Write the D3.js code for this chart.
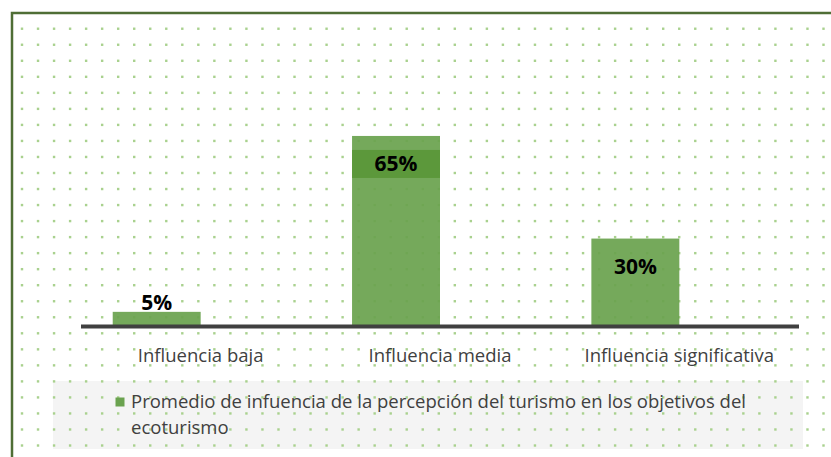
<!DOCTYPE html>
<html>
<head>
<meta charset="utf-8">
<style>
  html, body { margin: 0; padding: 0; background: #fff; }
  svg { display: block; }
</style>
</head>
<body>
<script src="https://cdn.jsdelivr.net/npm/d3@7"></script>
<script>
// datos del gráfico
var categories = ["Influencia baja", "Influencia media", "Influencia significativa"];
var values = [5, 65, 30];
var valueLabels = ["5%", "65%", "30%"];
var seriesName = "Promedio de infuencia de la percepción del turismo en los objetivos del ecoturismo";

var width = 831, height = 457;
var font = "'Open Sans', 'Noto Sans', sans-serif";

var svg = d3.select("body").append("svg")
  .attr("width", width)
  .attr("height", height);

svg.append("defs").append("clipPath").attr("id", "frame")
  .append("rect").attr("x", 12).attr("y", 12).attr("width", 900).attr("height", 600);

// escalas
var x = d3.scaleBand().domain(categories).range([81, 799]).paddingInner(0.265).paddingOuter(0.1325);
var sub = d3.scaleBand().domain([0, 1]).range([0, x.bandwidth()]);
var y = d3.scaleLinear().domain([0, 70]).range([326.5, 121.3]);

// fondo de la leyenda
svg.append("rect")
  .attr("x", 53).attr("y", 381).attr("width", 750).attr("height", 68)
  .attr("fill", "#f4f4f4");

// patrón de puntos
var dots = [];
for (var i = 0; i < 52; i++) {
  for (var j = 0; j < 28; j++) {
    dots.push([22 + i * 16.03, 12.7 + j * 16.03]);
  }
}
svg.append("g").attr("clip-path", "url(#frame)")
  .selectAll("rect").data(dots).enter().append("rect")
  .attr("x", function(d) { return d[0] - 1.2; })
  .attr("y", function(d) { return d[1] - 1.2; })
  .attr("width", 2.4).attr("height", 2.4)
  .attr("fill", "#a9d18e");

// barras
svg.selectAll(".bar").data(values).enter().append("rect")
  .attr("class", "bar")
  .attr("x", function(d, i) { return x(categories[i]) + sub(0); })
  .attr("y", function(d) { return y(d); })
  .attr("width", sub.bandwidth())
  .attr("height", function(d) { return y(0) - y(d); })
  .attr("fill", "#6aa24f")
  .attr("fill-opacity", 0.93);

// eje
svg.append("line")
  .attr("x1", x.range()[0]).attr("x2", x.range()[1])
  .attr("y1", y(0)).attr("y2", y(0))
  .attr("stroke", "#404040").attr("stroke-width", 4);

// caja de etiqueta para 65%
var maxI = values.indexOf(d3.max(values));
svg.append("rect")
  .attr("x", x(categories[maxI]) + sub(0))
  .attr("y", y(values[maxI]) + 14)
  .attr("width", sub.bandwidth())
  .attr("height", 28)
  .attr("fill", "#5c983b");

// etiquetas de datos
svg.selectAll(".lbl").data(values).enter().append("text")
  .attr("class", "lbl")
  .attr("x", function(d, i) { return x(categories[i]) + sub(0) + sub.bandwidth() / 2; })
  .attr("y", function(d) {
    return (y(0) - y(d) > 40) ? y(d) + 35 : y(d) - 1.5;
  })
  .attr("text-anchor", "middle")
  .attr("font-family", font)
  .attr("font-weight", "bold")
  .attr("font-size", "21px")
  .attr("fill", "#000")
  .text(function(d, i) { return valueLabels[i]; });

// etiquetas de categorías
svg.selectAll(".cat").data(categories).enter().append("text")
  .attr("class", "cat")
  .attr("x", function(d) { return x(d) + x.bandwidth() / 2; })
  .attr("y", 362)
  .attr("text-anchor", "middle")
  .attr("font-family", font)
  .attr("font-size", "18.5px")
  .attr("fill", "#404040")
  .text(function(d) { return d; });

// leyenda
svg.append("rect")
  .attr("x", 115.5).attr("y", 397.5).attr("width", 9).attr("height", 9)
  .attr("fill", "#6aa24f");

var legText = svg.append("text")
  .attr("x", 131).attr("y", 408)
  .attr("font-family", font)
  .attr("font-size", "18.5px")
  .attr("fill", "#404040");

var words = seriesName.split(" ");
var line = [];
var tspan = legText.append("tspan").attr("x", 131).attr("dy", 0);
words.forEach(function(w) {
  line.push(w);
  tspan.text(line.join(" "));
  if (tspan.node().getComputedTextLength() > 660 && line.length > 1) {
    line.pop();
    tspan.text(line.join(" "));
    line = [w];
    tspan = legText.append("tspan").attr("x", 131).attr("dy", 26).text(w);
  }
});

// marco
svg.append("rect")
  .attr("x", 12).attr("y", 13).attr("width", 900).attr("height", 600)
  .attr("fill", "none")
  .attr("stroke", "#4f6e35").attr("stroke-width", 2.5);
</script>
</body>
</html>
